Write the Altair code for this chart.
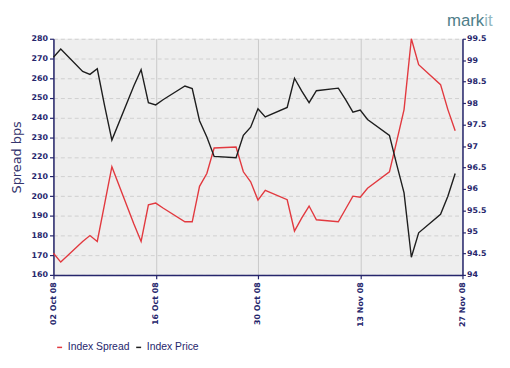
import altair as alt
import pandas as pd

dates = ["2008-10-02", "2008-10-03", "2008-10-06", "2008-10-07", "2008-10-08", "2008-10-09",
         "2008-10-10", "2008-10-13", "2008-10-14", "2008-10-15", "2008-10-16", "2008-10-17",
         "2008-10-20", "2008-10-21", "2008-10-22", "2008-10-23", "2008-10-24", "2008-10-27",
         "2008-10-28", "2008-10-29", "2008-10-30", "2008-10-31", "2008-11-03", "2008-11-04",
         "2008-11-05", "2008-11-06", "2008-11-07", "2008-11-10", "2008-11-11", "2008-11-12",
         "2008-11-13", "2008-11-14", "2008-11-17", "2008-11-18", "2008-11-19", "2008-11-20",
         "2008-11-21", "2008-11-24", "2008-11-25", "2008-11-26"]
spread = [171, 166.5, 177, 180, 177, 196,
          215, 186, 177, 195.6, 196.5, 194,
          187, 187, 205, 211.5, 224.5, 225,
          212.4, 207.3, 198, 203, 198.2, 182.3,
          189, 195, 188, 187, 193.5, 200,
          199.5, 204, 212.4, 228, 244, 280,
          266.8, 256.7, 244, 233.3]
price = [99.07, 99.26, 98.74, 98.67, 98.80, 97.94,
         97.14, 98.40, 98.78, 98.01, 97.96, 98.08,
         98.40, 98.34, 97.59, 97.21, 96.76, 96.73,
         97.25, 97.44, 97.87, 97.68, 97.90, 98.58,
         98.28, 98.01, 98.29, 98.35, 98.08, 97.79,
         97.84, 97.62, 97.25, 96.57, 95.91, 94.41,
         94.98, 95.41, 95.83, 96.36]

series_names = ["Index Spread", "Index Price"]
series_colors = ["#e2393f", "#1e1e1e"]
x_ticks = [(2008, 10, 2), (2008, 10, 16), (2008, 10, 30), (2008, 11, 13), (2008, 11, 27)]
right_ticks = [94, 94.5, 95, 95.5, 96, 96.5, 97, 97.5, 98, 98.5, 99, 99.5]

df = pd.DataFrame({"date": dates, "spread": spread, "price": price})

navy = "#26266c"
tick_vals = [alt.DateTime(year=y, month=m, date=d, utc=True) for (y, m, d) in x_ticks]

x_enc = alt.X(
    "date:T",
    scale=alt.Scale(type="utc", domain=[tick_vals[0], tick_vals[-1]]),
    axis=alt.Axis(values=tick_vals, labelExpr="utcFormat(datum.value, '%d %b %y')",
                  labelAngle=270, labelAlign="right", labelBaseline="middle",
                  title=None, grid=True, gridColor="#c9c9c9", gridWidth=1,
                  tickSize=4, labelPadding=3),
)

color_scale = alt.Scale(domain=series_names, range=series_colors)
legend = alt.Legend(title=None, orient="none", direction="horizontal", legendX=1, legendY=307,
                    symbolType="stroke", symbolSize=25, symbolStrokeWidth=1.5,
                    labelFont="Liberation Sans", labelFontSize=10.5, labelColor=navy,
                    labelOffset=3, columnPadding=3, symbolOffset=0)
color_enc = alt.Color("series:N", scale=color_scale, legend=legend)

base = alt.Chart(df).encode(x=x_enc)

spread_line = base.transform_calculate(series="'Index Spread'").mark_line(strokeWidth=1.4).encode(
    y=alt.Y("spread:Q", scale=alt.Scale(domain=[160, 280], nice=False, zero=False),
            axis=alt.Axis(values=list(range(160, 281, 10)), title="Spread bps",
                          titleFont="DejaVu Sans", titleFontSize=13, titleFontWeight="normal",
                          titleColor="#35356e", titlePadding=8,
                          grid=True, gridDash=[4, 3], gridColor="#cfcfcf", tickSize=4,
                          labelPadding=2)),
    color=color_enc,
)

price_line = base.transform_calculate(series="'Index Price'").mark_line(strokeWidth=1.4).encode(
    y=alt.Y("price:Q", scale=alt.Scale(domain=[94, 99.5], nice=False, zero=False),
            axis=alt.Axis(orient="right", values=right_ticks, format="~f", title=None,
                          grid=False, tickSize=3, labelPadding=1)),
    color=color_enc,
)

logo1 = alt.Chart(pd.DataFrame({"t": ["mark"]})).mark_text(
    align="right", baseline="alphabetic", font="Liberation Sans", fontSize=17, color="#4e7e89"
).encode(x=alt.value(436), y=alt.value(-13), text="t:N")
logo2 = alt.Chart(pd.DataFrame({"t": ["it"]})).mark_text(
    align="left", baseline="alphabetic", font="Liberation Sans", fontSize=17, color="#93b9c1"
).encode(x=alt.value(436), y=alt.value(-13), text="t:N")

chart = alt.layer(spread_line, price_line, logo1, logo2).resolve_scale(
    y="independent"
).properties(
    width=414, height=239,
    padding={"left": 46, "top": 29, "right": 40, "bottom": 84},
    autosize=alt.AutoSizeParams(type="none"),
    background="white",
).configure_view(
    fill="#eeeeee", stroke=None
).configure_axis(
    domainColor=navy, domainWidth=1.5, tickColor=navy, tickWidth=1.2,
    labelColor=navy, labelFont="DejaVu Sans", labelFontSize=8, labelFontWeight="bold",
)

chart.save("out.html", embed_options={"renderer": "svg", "actions": False})
